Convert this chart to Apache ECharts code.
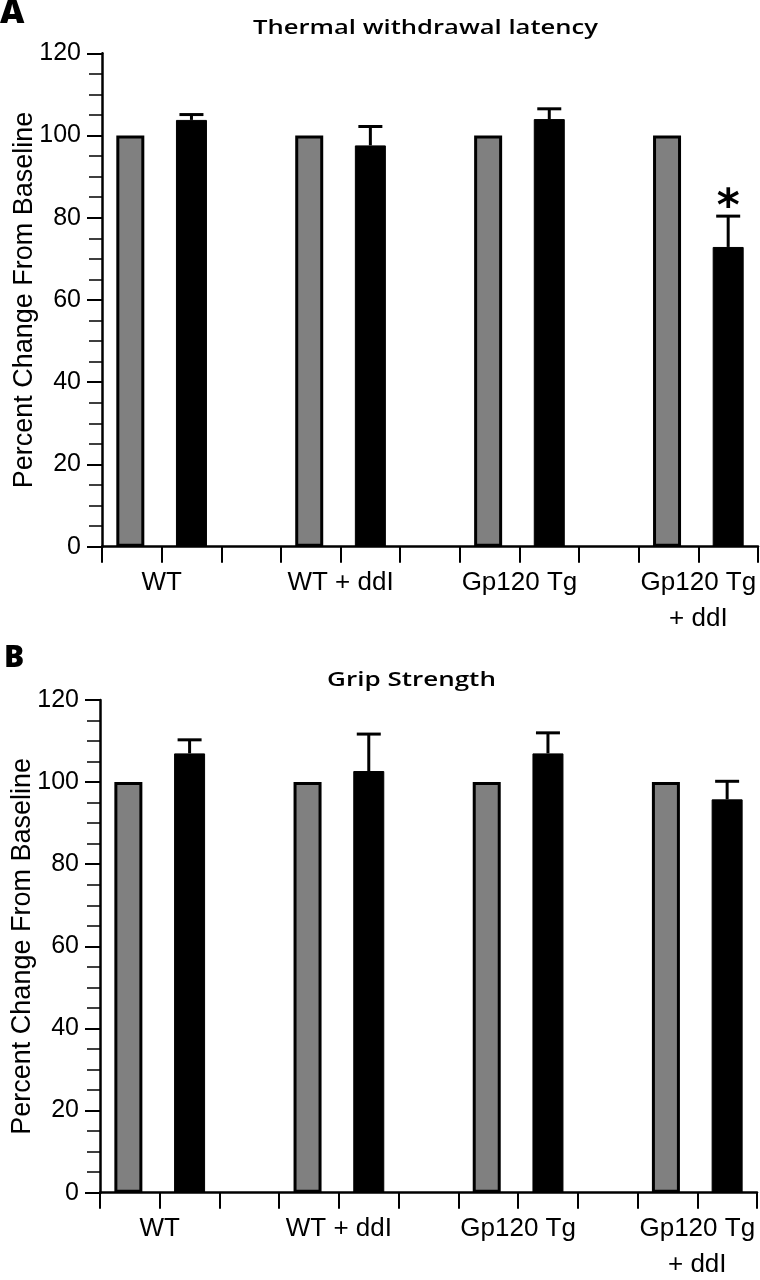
<!DOCTYPE html>
<html><head><meta charset="utf-8">
<script src="https://cdn.jsdelivr.net/npm/echarts@6/dist/echarts.min.js"></script>
<style>html,body{margin:0;padding:0;background:#fff}#c{width:760px;height:1280px}</style>
</head><body><div id="c"></div>
<script>
// ---- data ----
const groups = ['WT', 'WT + ddI', 'Gp120 Tg', 'Gp120 Tg\n+ ddI'];
const thermalBaseline = [100, 100, 100, 100];
const thermalTreated = [103.8, 97.6, 104.0, 72.9];
const thermalError = [1.3, 4.6, 2.5, 7.5];
const thermalSignificance = ['', '', '', '*'];
const gripBaseline = [100, 100, 100, 100];
const gripTreated = [107.0, 102.7, 107.0, 95.8];
const gripError = [3.3, 9.0, 5.0, 4.4];
const gripSignificance = ['', '', '', ''];
const yMin = 0, yMax = 120, yStep = 20;
const titles = ['Thermal withdrawal latency', 'Grip Strength'];
const panelLetters = ['A', 'B'];

// ---- layout helpers ----
const nSlots = groups.length * 3 - 1;
const slotCats = Array.from({length: nSlots}, (_, i) => 's' + i);
const labelCats = Array(nSlots + 1).fill('');
groups.forEach((g, i) => { labelCats[3 * i + 1] = g; });
function slotData(vals, off) {
  const a = Array(nSlots).fill('-');
  vals.forEach((v, i) => { a[3 * i + off] = v; });
  return a;
}
const LABEL_FONT = '"Liberation Sans", Arial, Helvetica, sans-serif';
const TITLE_FONT = '"Open Sans", "Noto Sans", sans-serif';

function errSeries(idx, treated, err, sig) {
  return {
    type: 'custom', xAxisIndex: idx * 2, yAxisIndex: idx, z: 5,
    data: treated.map((v, i) => [3 * i + 1, v, err[i]]),
    renderItem: function (params, api) {
      const i = params.dataIndex;
      const x = api.value(0), m = api.value(1), e = api.value(2);
      const base = api.coord([x, m]);
      const top = api.coord([x, m + e]);
      const children = [
        {type: 'line', shape: {x1: base[0], y1: base[1], x2: top[0], y2: top[1]}, style: {stroke: '#000', lineWidth: 3}},
        {type: 'line', shape: {x1: top[0] - 12, y1: top[1], x2: top[0] + 12, y2: top[1]}, style: {stroke: '#000', lineWidth: 3}}
      ];
      if (sig[i]) {
        children.push({type: 'text', x: top[0], y: top[1] + 14,
          style: {text: sig[i], align: 'center', verticalAlign: 'bottom', fill: '#000',
            font: 'bold 44px "DejaVu Sans", sans-serif'}});
      }
      return {type: 'group', children: children};
    }
  };
}

function xAxes(idx) {
  return [
    {type: 'category', gridIndex: idx, position: 'bottom', data: slotCats, boundaryGap: true,
      axisLine: {lineStyle: {color: '#000', width: 2.5}},
      axisTick: {show: true, interval: 0, length: 16, lineStyle: {color: '#000', width: 2}},
      axisLabel: {show: false}, splitLine: {show: false}},
    {type: 'category', gridIndex: idx, position: 'bottom', data: labelCats, boundaryGap: false,
      axisLine: {show: false}, axisTick: {show: false}, splitLine: {show: false},
      axisLabel: {show: true, interval: 0, margin: 18, color: '#000', fontSize: 26, lineHeight: 36,
        fontFamily: LABEL_FONT, align: 'center', hideOverlap: false}}
  ];
}
function yAxis(idx) {
  return {type: 'value', gridIndex: idx, min: yMin, max: yMax, interval: yStep,
    name: 'Percent Change From Baseline', nameLocation: 'middle', nameRotate: 90, nameGap: 64,
    nameMoveOverlap: false,
    nameTextStyle: {color: '#000', fontSize: 27, fontFamily: LABEL_FONT},
    axisLine: {show: true, lineStyle: {color: '#000', width: 2.5}},
    axisTick: {show: true, length: 15, lineStyle: {color: '#000', width: 2}},
    minorTick: {show: true, splitNumber: 4, length: 13, lineStyle: {color: '#000', width: 1.5}},
    axisLabel: {margin: 21, color: '#000', fontSize: 25, fontFamily: LABEL_FONT},
    splitLine: {show: false}, minorSplitLine: {show: false}};
}
function barSeries(idx, baseline, treated) {
  return [
    {type: 'bar', xAxisIndex: idx * 2, yAxisIndex: idx, data: slotData(baseline, 0), barWidth: 28, barGap: '-100%',
      itemStyle: {color: '#808080', borderColor: '#000', borderWidth: 3}},
    {type: 'bar', xAxisIndex: idx * 2, yAxisIndex: idx, data: slotData(treated, 1), barWidth: 31, barGap: '-100%',
      itemStyle: {color: '#000', borderColor: '#000', borderWidth: 1}}
  ];
}

const chart = echarts.init(document.getElementById('c'), null, {renderer: 'canvas'});
chart.setOption({
  animation: false,
  backgroundColor: '#fff',
  grid: [
    {left: 102, top: 53.3, width: 656, height: 493.4, containLabel: false, outerBoundsMode: 'none'},
    {left: 100, top: 700, width: 657, height: 492.7, containLabel: false, outerBoundsMode: 'none'}
  ],
  xAxis: [...xAxes(0), ...xAxes(1)],
  yAxis: [yAxis(0), yAxis(1)],
  graphic: [
    {type: 'text', x: 425.5, y: 28.5, scaleX: 1.28, style: {text: titles[0], align: 'center', verticalAlign: 'middle', fill: '#000', font: '600 20px ' + TITLE_FONT}},
    {type: 'text', x: 411.5, y: 680, scaleX: 1.3, style: {text: titles[1], align: 'center', verticalAlign: 'middle', fill: '#000', font: '600 20px ' + TITLE_FONT}},
    {type: 'text', x: 0, y: 14, scaleX: 1.05, style: {text: panelLetters[0], align: 'left', verticalAlign: 'middle', fill: '#000', font: '800 32px ' + TITLE_FONT}},
    {type: 'text', x: 4, y: 658, style: {text: panelLetters[1], align: 'left', verticalAlign: 'middle', fill: '#000', font: '800 30px ' + TITLE_FONT}}
  ],
  series: [
    ...barSeries(0, thermalBaseline, thermalTreated),
    errSeries(0, thermalTreated, thermalError, thermalSignificance),
    ...barSeries(1, gripBaseline, gripTreated),
    errSeries(1, gripTreated, gripError, gripSignificance)
  ]
});
</script></body></html>
